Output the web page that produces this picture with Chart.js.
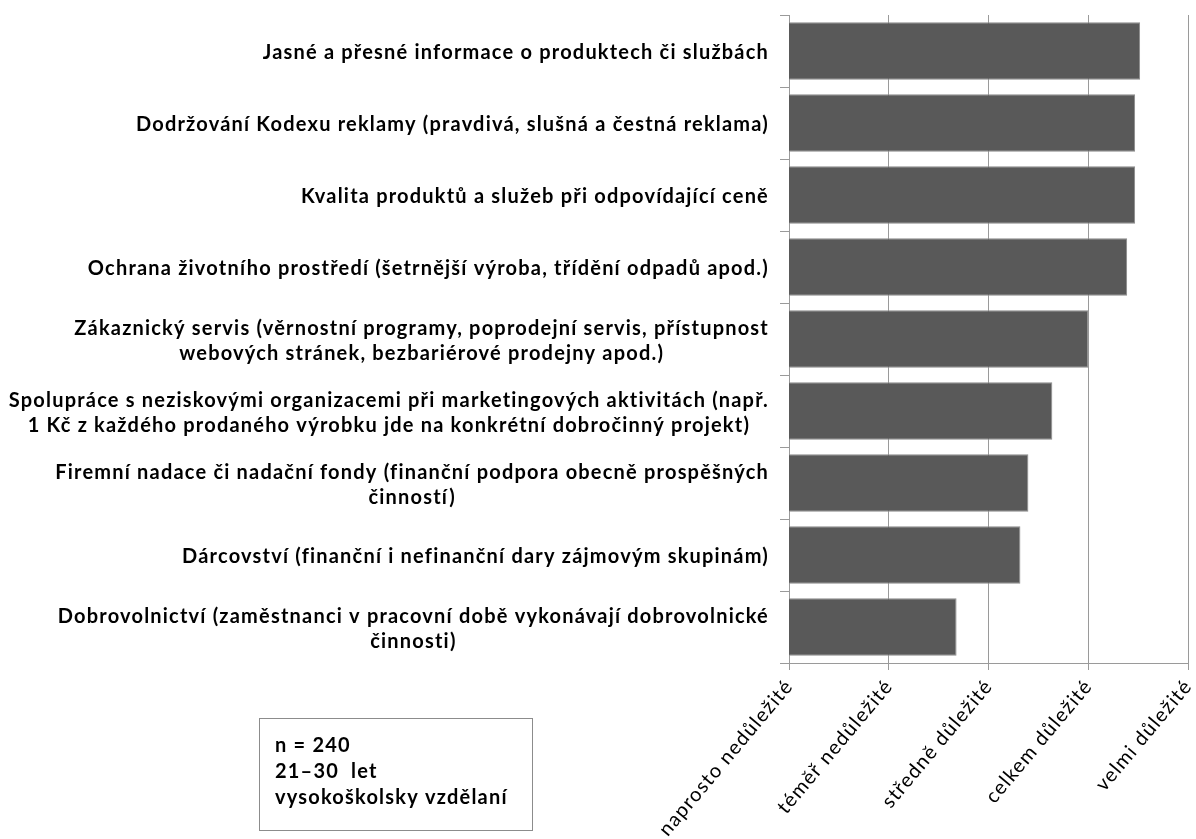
<!DOCTYPE html>
<html lang="cs">
<head>
<meta charset="utf-8">
<title>Důležitost oblastí odpovědného podnikání</title>
<script src="https://cdn.jsdelivr.net/npm/chart.js@4/dist/chart.umd.min.js"></script>
<style>
  html, body { margin: 0; padding: 0; background: #ffffff; }
  #wrap { width: 1196px; height: 839px; }
</style>
</head>
<body>
<div id="wrap"><canvas id="chart" width="1196" height="839"></canvas></div>
<script>
// Oblasti hodnocené respondenty (víceřádkové popisky jako pole řádků)
const categories = [
  'Jasné a přesné informace o produktech či službách',
  'Dodržování Kodexu reklamy (pravdivá, slušná a čestná reklama)',
  'Kvalita produktů a služeb při odpovídající ceně',
  'Ochrana životního prostředí (šetrnější výroba, třídění odpadů apod.)',
  ['Zákaznický servis (věrnostní programy, poprodejní servis, přístupnost',
   'webových stránek, bezbariérové prodejny apod.)'],
  ['Spolupráce s neziskovými organizacemi při marketingových aktivitách (např.',
   '1 Kč z každého prodaného výrobku jde na konkrétní dobročinný projekt)'],
  ['Firemní nadace či nadační fondy (finanční podpora obecně prospěšných',
   'činností)'],
  'Dárcovství (finanční i nefinanční dary zájmovým skupinám)',
  ['Dobrovolnictví (zaměstnanci v pracovní době vykonávají dobrovolnické',
   'činnosti)']
];

// Průměrné hodnocení na škále 1–5
const scores = [4.52, 4.47, 4.47, 4.39, 4.00, 3.64, 3.40, 3.32, 2.68];

// Slovní popisy bodů škály 1–5
const ratingLabels = [
  'naprosto nedůležité',
  'téměř nedůležité',
  'středně důležité',
  'celkem důležité',
  'velmi důležité'
];

// Popis vzorku
const sampleNote = ['n = 240', '21–30  let', 'vysokoškolsky vzdělaní'];

const LABEL_FONT = 'Lato, "Open Sans", sans-serif';
const LETTER_SPACING = '1.2px';
const GRID = '#9a9a9a';

// Prostrkání písma pro všechny texty grafu
const spacing = {
  id: 'spacing',
  beforeUpdate(chart) { chart.ctx.letterSpacing = LETTER_SPACING; },
  beforeDraw(chart) { chart.ctx.letterSpacing = LETTER_SPACING; }
};

// Popisky kategorií: blok zarovnaný doprava, řádky uvnitř bloku na střed
const categoryLabels = {
  id: 'categoryLabels',
  afterDraw(chart) {
    const y = chart.scales.y;
    const ctx = chart.ctx;
    ctx.save();
    ctx.letterSpacing = LETTER_SPACING;
    ctx.font = 'bold 20px ' + LABEL_FONT;
    ctx.fillStyle = '#000000';
    ctx.textAlign = 'center';
    ctx.textBaseline = 'middle';
    const right = y.right - 20;
    const lineH = 25;
    categories.forEach((lab, i) => {
      const lines = Array.isArray(lab) ? lab : [lab];
      const w = Math.max(...lines.map(l => ctx.measureText(l).width));
      const cx = right - w / 2;
      const cy = y.getPixelForTick(i) + 2;
      lines.forEach((line, j) => {
        ctx.fillText(line, cx, cy + (j - (lines.length - 1) / 2) * lineH);
      });
    });
    ctx.restore();
  }
};

// Rámeček s popisem vzorku
const noteBox = {
  id: 'noteBox',
  afterDraw(chart) {
    const ctx = chart.ctx;
    ctx.save();
    ctx.letterSpacing = LETTER_SPACING;
    ctx.strokeStyle = '#8c8c8c';
    ctx.lineWidth = 1;
    ctx.strokeRect(259.5, 718.5, 273, 112);
    ctx.font = 'bold 20px ' + LABEL_FONT;
    ctx.fillStyle = '#000000';
    ctx.textAlign = 'left';
    ctx.textBaseline = 'middle';
    sampleNote.forEach((t, i) => ctx.fillText(t, 275, 746 + i * 26));
    ctx.restore();
  }
};

new Chart(document.getElementById('chart'), {
  type: 'bar',
  data: {
    labels: categories,
    datasets: [{
      data: scores,
      backgroundColor: '#595959',
      borderColor: '#8a8a8a',
      borderWidth: 1,
      barPercentage: 0.8,
      categoryPercentage: 1.0
    }]
  },
  options: {
    indexAxis: 'y',
    responsive: false,
    animation: false,
    layout: { padding: { top: 15, right: 8, left: 0, bottom: 0 } },
    plugins: {
      legend: { display: false },
      tooltip: { enabled: false }
    },
    scales: {
      x: {
        type: 'linear',
        min: 1,
        max: 5,
        afterFit(scale) {
          scale.height = 176;
          scale.paddingLeft = 0;
          scale.paddingRight = 0;
        },
        border: { display: true, color: GRID, width: 1 },
        grid: { color: GRID, lineWidth: 1, tickLength: 7, drawTicks: true },
        ticks: {
          stepSize: 1,
          minRotation: 50,
          maxRotation: 50,
          padding: 5,
          color: '#000000',
          font: { family: LABEL_FONT, size: 20 },
          callback: (v) => ratingLabels[Math.round(v) - 1] || ''
        }
      },
      y: {
        type: 'category',
        afterFit(scale) { scale.width = 789; },
        border: { display: true, color: GRID, width: 1 },
        grid: { offset: true, drawOnChartArea: false, drawTicks: true, tickLength: 9, color: GRID },
        ticks: { display: false }
      }
    }
  },
  plugins: [spacing, categoryLabels, noteBox]
});
</script>
</body>
</html>
